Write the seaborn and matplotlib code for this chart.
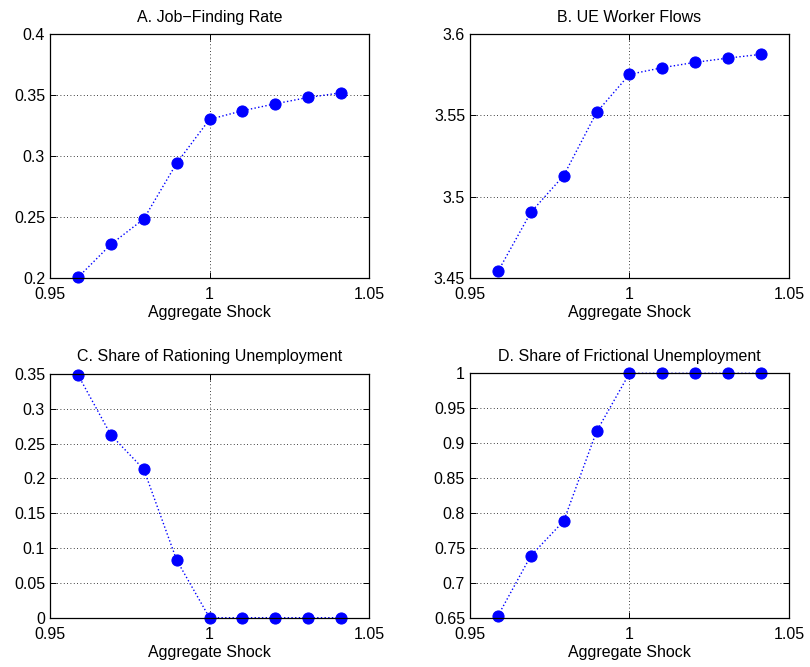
import matplotlib
matplotlib.use("Agg")
import matplotlib.pyplot as plt
import seaborn as sns
import pandas as pd

# aggregate shock grid
shock = [0.9588, 0.9691, 0.9794, 0.9897, 1.0, 1.0103, 1.0206, 1.0309, 1.0412]

# panel values
job_finding = [0.2005, 0.2276, 0.2484, 0.2941, 0.3300, 0.3371, 0.3428, 0.3480, 0.3518]
ue_flows = [3.4541, 3.4904, 3.5130, 3.5518, 3.5752, 3.5793, 3.5826, 3.5852, 3.5875]
rationing = [0.3486, 0.2624, 0.2131, 0.0828, 0.0, 0.0, 0.0, 0.0, 0.0]
frictional = [0.6529, 0.7388, 0.7885, 0.9169, 1.0, 1.0, 1.0, 1.0, 1.0]

titles = ["A. Job\u2212Finding Rate", "B. UE Worker Flows",
          "C. Share of Rationing Unemployment", "D. Share of Frictional Unemployment"]
ylims = [(0.2, 0.4), (3.45, 3.6), (0, 0.35), (0.65, 1.0)]
yticks = [[0.2, 0.25, 0.3, 0.35, 0.4],
          [3.45, 3.5, 3.55, 3.6],
          [0, 0.05, 0.1, 0.15, 0.2, 0.25, 0.3, 0.35],
          [0.65, 0.7, 0.75, 0.8, 0.85, 0.9, 0.95, 1.0]]
xticks = [0.95, 1.0, 1.05]

sns.set_theme(style="white")
plt.rcParams['font.family'] = ['Liberation Sans', 'DejaVu Sans']
plt.rcParams['text.color'] = 'black'
plt.rcParams['axes.labelcolor'] = 'black'

fig = plt.figure(figsize=(8.1, 6.67), dpi=100)
positions = [
    [0.0617, 0.5832, 0.3939, 0.3658],
    [0.5802, 0.5832, 0.3938, 0.3658],
    [0.0617, 0.0739, 0.3939, 0.3654],
    [0.5802, 0.0739, 0.3938, 0.3664],
]
series = [job_finding, ue_flows, rationing, frictional]
fs = 11.5

for i in range(4):
    ax = fig.add_axes(positions[i])
    df = pd.DataFrame({"shock": shock, "val": series[i]})
    sns.lineplot(data=df, x="shock", y="val", ax=ax, color="blue",
                 linestyle=":", linewidth=1.0, marker="o", markersize=8,
                 markeredgecolor="blue", markerfacecolor="blue", clip_on=False)
    ax.set_xlim(0.95, 1.05)
    ax.set_ylim(*ylims[i])
    ax.set_xticks(xticks)
    ax.set_xticklabels(["0.95", "1", "1.05"])
    ax.set_yticks(yticks[i])
    ax.set_yticklabels([("%g" % v) for v in yticks[i]])
    ax.grid(True, color="black", linestyle=(0, (1, 3)), linewidth=0.6)
    for s in ax.spines.values():
        s.set_visible(True)
        s.set_color("black")
        s.set_linewidth(0.9)
    ax.tick_params(axis="both", which="both", direction="in", length=4,
                   width=0.7, colors="black", labelsize=fs,
                   top=True, right=True, bottom=True, left=True)
    ax.tick_params(axis="x", pad=6.5)
    ax.tick_params(axis="y", pad=3.5)
    ax.set_title(titles[i], fontsize=fs, pad=9, color="black")
    ax.set_xlabel("Aggregate Shock", fontsize=fs, labelpad=2, color="black")
    ax.set_ylabel("")

fig.savefig("out.png", dpi=100, facecolor="white")
